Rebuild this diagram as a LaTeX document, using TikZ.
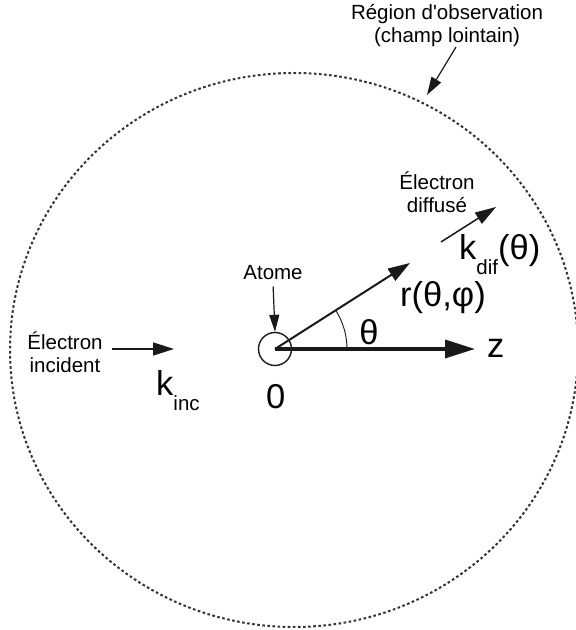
\documentclass[tikz,border=0pt]{standalone}
\usepackage{fontspec}
\setmainfont{Liberation Sans}
\usetikzlibrary{arrows.meta}
\newcommand\smallf{\fontsize{20.5}{23}\selectfont}
\newcommand\bigf{\fontsize{34.5}{38}\selectfont}
\begin{document}
\begin{tikzpicture}[x=1pt,y=1pt,
  lbl/.style={inner sep=0pt,font=\smallf,align=center,text=black},
  big/.style={inner sep=0pt,font=\bigf,text=black},
  obs/.style={draw=black!80,line width=2pt,dash pattern=on 2.6pt off 2.5pt},
  thinarrow/.style={draw=black!90,line width=1.2pt,-{Triangle[length=17pt,width=10pt]}},
  medarrow/.style={draw=black!90,line width=1.5pt,-{Triangle[length=21pt,width=13pt]}},
  zarrow/.style={draw=black!90,line width=3.5pt,-{Triangle[length=30pt,width=18pt]}}
]
\useasboundingbox (0,0) rectangle (576,630);
\fill[white] (0,0) rectangle (576,630);

% observation region
\draw[obs] (294,280) ellipse [x radius=284pt, y radius=277pt];
\node[lbl] (reg) at (447,604) {Région d\textquotesingle observation\\(champ lointain)};
\coordinate (regtail) at (456,583);
\coordinate (regtip) at (427,535);
\draw[thinarrow,-{Triangle[length=18pt,width=11pt]}] (regtail) -- (regtip);

% atom
\node[draw=black!90,line width=1.4pt,circle,minimum size=33pt,inner sep=0pt] (atom) at (275,281) {};
\node[lbl,anchor=base,inner sep=3pt] (atome) at (273,350) {Atome};
\draw[thinarrow,shorten <=3pt] (atome.south) -- (atom.north);
\node[big,anchor=base west] (zero) at (266,221) {0};

% z axis
\coordinate (ztip) at (475,281);
\draw[zarrow] (atom.center) -- (ztip);
\node[big,anchor=base west] (zlab) at (487,272) {z};

% r vector
\coordinate (rtip) at (410,367);
\draw[draw=black!90,line width=2pt,-{Triangle[length=22pt,width=14pt]}] (atom.center) -- (rtip);
\draw[black!90,line width=0.9pt] ([xshift=72pt]atom.center) arc[start angle=0,end angle=32.5,radius=72pt];
\node[big] (theta) at (369,298) {θ};
\node[big,anchor=base west] (rlab) at (400,323) {r(θ,φ)};

% incident electron
\node[lbl] (inc) at (65,278) {Électron\\incident};
\coordinate (inctail) at (112,281);
\coordinate (inctip) at (174,281);
\draw[medarrow] (inctail) -- (inctip);
\node[big,anchor=base west] (kinc) at (156,234) {k{\smallf\raisebox{-15pt}{inc}}};

% scattered electron
\node[lbl] (dif) at (437,438) {Électron\\diffusé};
\coordinate (diftail) at (441,388);
\coordinate (diftip) at (496,423);
\draw[medarrow] (diftail) -- (diftip);
\node[big,anchor=base west] (kdif) at (459,370) {k{\smallf\raisebox{-15pt}{dif}}(θ)};
\end{tikzpicture}
\end{document}
